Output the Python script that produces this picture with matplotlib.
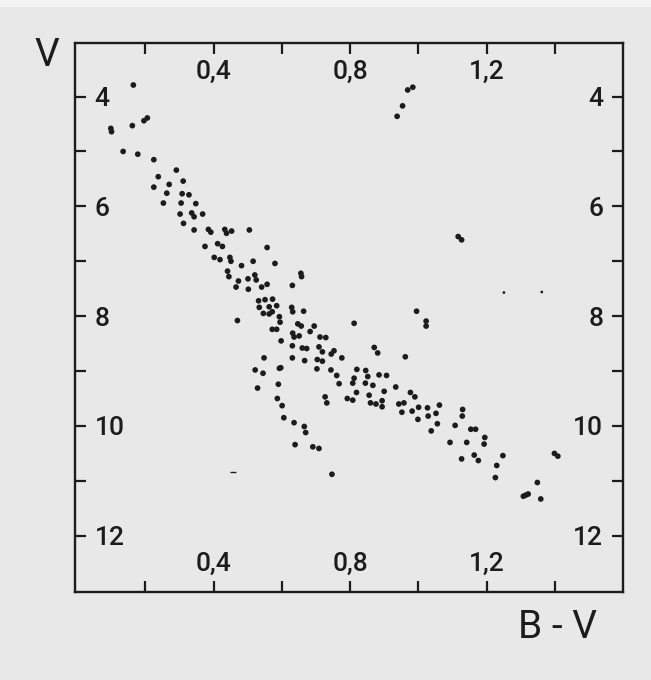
import matplotlib
matplotlib.use("Agg")
import matplotlib.pyplot as plt
from matplotlib.patches import Rectangle

# ---- data (B-V colour index, V magnitude) ----
bv = [0.165, 0.206, 0.196, 0.099, 0.101, 0.162, 0.135, 0.178, 0.225, 0.291,
      0.238, 0.311, 0.270, 0.225, 0.263, 0.308, 0.328, 0.253, 0.305, 0.348,
      0.302, 0.336, 0.343, 0.368, 0.312, 0.343, 0.385, 0.392, 0.433, 0.438,
      0.453, 0.505, 0.375, 0.412, 0.426, 0.557, 0.402, 0.419, 0.448, 0.451,
      0.482, 0.516, 0.580, 0.441, 0.445, 0.473, 0.466, 0.501, 0.521, 0.525,
      0.502, 0.541, 0.557, 0.532, 0.534, 0.551, 0.573, 0.563, 0.585, 0.546,
      0.563, 0.572, 0.470, 0.572, 0.585, 0.548, 0.522, 0.545, 0.529, 0.590,
      0.593, 0.656, 0.658, 0.631, 0.629, 0.632, 0.664, 0.593, 0.595, 0.647,
      0.657, 0.695, 0.683, 0.632, 0.636, 0.651, 0.598, 0.712, 0.729, 0.631,
      0.660, 0.673, 0.709, 0.719, 0.745, 0.753, 0.812, 0.871, 0.881, 0.995,
      1.023, 1.023, 0.631, 0.667, 0.704, 0.719, 0.776, 0.962, 0.597, 0.703,
      0.744, 0.761, 0.820, 0.812, 0.808, 0.846, 0.852, 0.885, 0.907, 0.845,
      0.867, 0.768, 0.934, 0.900, 0.977, 0.990, 0.819, 0.856, 0.727, 0.732,
      0.792, 0.808, 0.860, 0.876, 0.894, 0.894, 0.943, 0.958, 0.952, 0.982,
      1.001, 1.027, 1.029, 1.052, 1.062, 0.999, 1.056, 1.038, 1.108, 1.130,
      1.129, 1.154, 1.168, 1.195, 1.193, 1.093, 1.142, 1.127, 1.164, 1.176,
      1.230, 1.226, 1.248, 0.666, 0.670, 0.691, 0.709, 0.747, 0.587, 0.601,
      0.606, 0.636, 0.639, 0.969, 0.984, 0.954, 0.938, 1.117, 1.127, 1.399,
      1.409, 1.349, 1.308, 1.315, 1.322, 1.359]
vmag = [3.79, 4.39, 4.44, 4.58, 4.64, 4.53, 5.00, 5.05, 5.15, 5.34,
        5.46, 5.54, 5.60, 5.65, 5.76, 5.77, 5.79, 5.94, 5.94, 5.95,
        6.14, 6.12, 6.19, 6.14, 6.31, 6.43, 6.42, 6.47, 6.42, 6.49,
        6.45, 6.43, 6.73, 6.68, 6.73, 6.75, 6.93, 6.97, 6.93, 7.00,
        7.08, 7.00, 7.04, 7.18, 7.28, 7.36, 7.47, 7.32, 7.25, 7.34,
        7.51, 7.47, 7.42, 7.72, 7.84, 7.70, 7.69, 7.83, 7.81, 7.95,
        7.96, 7.92, 8.08, 8.24, 8.24, 8.76, 8.98, 9.04, 9.31, 9.24,
        8.95, 7.22, 7.28, 7.44, 7.84, 7.92, 7.91, 8.01, 8.11, 8.14,
        8.18, 8.18, 8.28, 8.31, 8.38, 8.36, 8.45, 8.38, 8.39, 8.54,
        8.58, 8.59, 8.56, 8.65, 8.69, 8.63, 8.13, 8.57, 8.67, 7.91,
        8.09, 8.18, 8.76, 8.81, 8.79, 8.82, 8.76, 8.74, 8.94, 8.96,
        8.98, 9.08, 8.97, 9.13, 9.22, 8.99, 9.10, 9.07, 9.08, 9.22,
        9.26, 9.23, 9.29, 9.37, 9.39, 9.47, 9.39, 9.44, 9.47, 9.58,
        9.50, 9.53, 9.58, 9.60, 9.54, 9.65, 9.60, 9.58, 9.75, 9.73,
        9.66, 9.67, 9.82, 9.77, 9.62, 9.88, 9.96, 10.09, 9.99, 9.70,
        9.82, 10.06, 10.06, 10.21, 10.33, 10.30, 10.30, 10.60, 10.53, 10.63,
        10.72, 10.94, 10.54, 10.01, 10.12, 10.38, 10.41, 10.88, 9.50, 9.63,
        9.85, 9.94, 10.34, 3.88, 3.83, 4.17, 4.36, 6.55, 6.61, 10.50,
        10.55, 11.03, 11.28, 11.26, 11.24, 11.33]

# faint (small) stars
bv_small = [1.251, 1.362]
v_small = [7.57, 7.56]
# tiny dash-like speck
bv_dash = [0.458]
v_dash = [10.84]

x_ticks = [0.2, 0.4, 0.6, 0.8, 1.0, 1.2, 1.4]
x_ticklabels = ["", "0,4", "", "0,8", "", "1,2", ""]
y_ticks = [4, 5, 6, 7, 8, 9, 10, 11, 12]
y_ticklabels = ["4", "", "6", "", "8", "", "10", "", "12"]

ink = "#1c1c1c"
bg = "#e8e8e8"

plt.rcParams["font.family"] = ["Roboto", "Liberation Sans", "DejaVu Sans"]
plt.rcParams["font.weight"] = "medium"

fig = plt.figure(figsize=(6.51, 6.80), dpi=100, facecolor=bg)
# lighter scan margin at the top
fig.patches.append(Rectangle((0, 1 - 7 / 680), 1, 7 / 680, transform=fig.transFigure,
                             facecolor="#f3f3f3", edgecolor="none", zorder=-1))

ax = fig.add_axes([75 / 651, 1 - 592.3 / 680, 548 / 651, 549 / 680])
ax.set_facecolor(bg)

ax.scatter(bv, vmag, s=17, color=ink, edgecolors="none", zorder=3)
ax.scatter(bv_small, v_small, s=4, color=ink, edgecolors="none", zorder=3)
ax.scatter(bv_dash, v_dash, s=14, marker="_", color=ink, linewidths=1.0, zorder=3)

ax.set_xlim(-0.006, 1.600)
ax.set_ylim(13.03, 3.03)

ax.set_xticks(x_ticks)
ax.set_xticklabels(x_ticklabels)
ax.set_yticks(y_ticks)
ax.set_yticklabels(y_ticklabels)

for sp in ax.spines.values():
    sp.set_linewidth(1.7)
    sp.set_color(ink)

ax.tick_params(axis="both", which="major", direction="in", length=8, width=1.6,
               colors=ink, labelsize=19, top=True, right=True,
               labeltop=True, labelright=True)
ax.tick_params(axis="y", pad=-14.2)
ax.tick_params(axis="x", pad=-12.0)

for t in ax.yaxis.get_major_ticks():
    t.label1.set_horizontalalignment("left")
    t.label2.set_horizontalalignment("right")
for t in ax.xaxis.get_major_ticks():
    t.label1.set_verticalalignment("bottom")
    t.label2.set_verticalalignment("top")

ax.set_xlabel("B - V", fontsize=28, color=ink)
ax.xaxis.set_label_coords((557 - 75) / 548, (592.3 - 627) / 549)
ax.xaxis.label.set_verticalalignment("center")
ax.set_ylabel("V", fontsize=28, color=ink, rotation=0)
ax.yaxis.set_label_coords((46.5 - 75) / 548, (592.3 - 56) / 549)
ax.yaxis.label.set_verticalalignment("center")
ax.yaxis.label.set_horizontalalignment("center")

fig.savefig("out.png", dpi=100, facecolor=fig.get_facecolor())
